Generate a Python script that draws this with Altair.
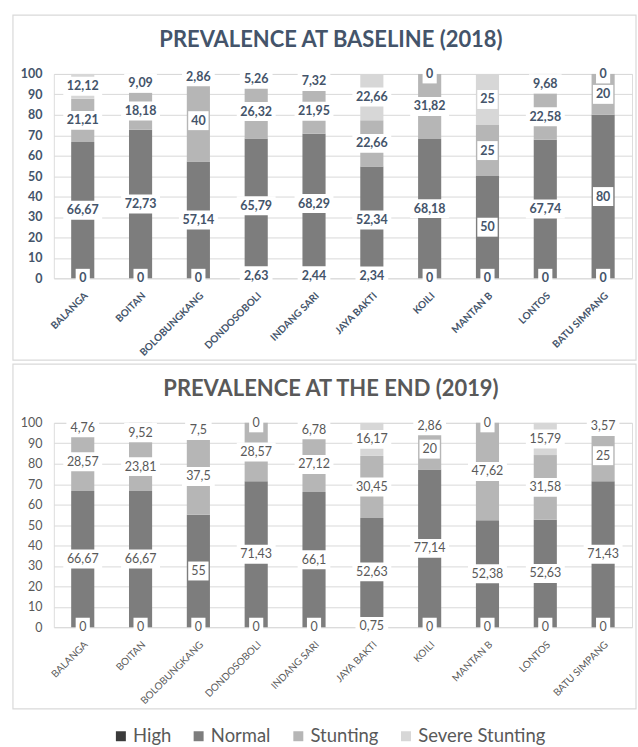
import altair as alt
import pandas as pd

villages = ["BALANGA", "BOITAN", "BOLOBUNGKANG", "DONDOSOBOLI", "INDANG SARI",
            "JAYA BAKTI", "KOILI", "MANTAN B", "LONTOS", "BATU SIMPANG"]
categories = ["High", "Normal", "Stunting", "Severe Stunting"]
colors = ["#3b3b3b", "#7d7d7d", "#b6b6b6", "#d7d7d7"]

base_high = [0, 0, 0, 2.63, 2.44, 2.34, 0, 0, 0, 0]
base_normal = [66.67, 72.73, 57.14, 65.79, 68.29, 52.34, 68.18, 50, 67.74, 80]
base_stunting = [21.21, 18.18, 40, 26.32, 21.95, 22.66, 31.82, 25, 22.58, 20]
base_severe = [12.12, 9.09, 2.86, 5.26, 7.32, 22.66, 0, 25, 9.68, 0]

end_high = [0, 0, 0, 0, 0, 0.75, 0, 0, 0, 0]
end_normal = [66.67, 66.67, 55, 71.43, 66.1, 52.63, 77.14, 52.38, 52.63, 71.43]
end_stunting = [28.57, 23.81, 37.5, 28.57, 27.12, 30.45, 20, 47.62, 31.58, 25]
end_severe = [4.76, 9.52, 7.5, 0, 6.78, 16.17, 2.86, 0, 15.79, 3.57]


def long_df(series):
    rows = []
    for ci, (cat, vals) in enumerate(zip(categories, series)):
        for v, val in zip(villages, vals):
            rows.append({"village": v, "category": cat, "order": ci, "value": val})
    return pd.DataFrame(rows)


df_base = long_df([base_high, base_normal, base_stunting, base_severe])
df_end = long_df([end_high, end_normal, end_stunting, end_severe])

FONT = "Lato"
W, H = 580, 205


def panel(df, title_text, txt_color, weight):
    base = alt.Chart(df).transform_stack(
        stack="value", groupby=["village"], as_=["y0", "y1"],
        sort=[alt.SortField("order", order="ascending")]
    ).transform_calculate(
        mid="(datum.y0 + datum.y1) / 2",
        label="replace(toString(datum.value), '.', ',')",
    ).transform_calculate(
        boxw="length(datum.label) * 6.2 + 8"
    )
    xax = alt.Axis(title=None, labelAngle=-45, labelFontSize=10, labelFontWeight=weight,
                   labelColor=txt_color, labelFont=FONT, ticks=False, domain=False,
                   grid=False, labelPadding=12, zindex=1)
    yax = alt.Axis(title=None, values=list(range(0, 101, 10)), grid=True, gridColor="#d9d9d9",
                   domain=False, ticks=False, labelPadding=12, labelFontSize=12.5,
                   labelFontWeight=weight, labelColor=txt_color, labelFont=FONT)
    xenc = alt.X("village:N", sort=villages, axis=xax,
                 scale=alt.Scale(paddingInner=0.6, paddingOuter=0.3))
    yscale = alt.Scale(domain=[0, 100], nice=False)
    bars = base.mark_bar().encode(
        x=xenc,
        y=alt.Y("y0:Q", scale=yscale, axis=yax),
        y2="y1:Q",
        color=alt.Color("category:N", scale=alt.Scale(domain=categories, range=colors),
                        legend=alt.Legend(title=None, orient="none", direction="horizontal",
                                          legendX=58, legendY=655, symbolType="square",
                                          symbolSize=100, symbolStrokeWidth=0,
                                          labelFontSize=18.5, labelFont=FONT,
                                          labelColor="#595959", columnPadding=18,
                                          labelOffset=3)),
    )
    boxes = base.mark_tick(color="white", thickness=19, opacity=1).encode(
        x=xenc, y=alt.Y("mid:Q", scale=yscale, axis=yax),
        size=alt.Size("boxw:Q", scale=None),
    )
    labels = base.mark_text(font=FONT, fontSize=12.5, fontWeight=weight, color=txt_color,
                            baseline="middle").encode(
        x=xenc, y=alt.Y("mid:Q", scale=yscale, axis=yax), text="label:N",
    )
    one = alt.Data(values=[{"k": 1}])
    frame = alt.Chart(one).mark_rect(fillOpacity=0, stroke="#d9d9d9", strokeWidth=1.2).encode(
        x=alt.value(-41), x2=alt.value(584), y=alt.value(-59), y2=alt.value(H + 82)
    )
    title = alt.Chart(one).mark_text(font=FONT, fontSize=22, fontWeight="bold", color=txt_color,
                                     align="center", baseline="middle").encode(
        x=alt.value(278), y=alt.value(-34), text=alt.value(title_text)
    )
    return alt.layer(frame, title, bars, boxes, labels).properties(width=W, height=H)


top = panel(df_base, "PREVALENCE AT BASELINE (2018)", "#44546a", "bold")
bottom = panel(df_end, "PREVALENCE AT THE END (2019)", "#595959", "normal")

chart = alt.vconcat(top, bottom, spacing=145, bounds="flush").properties(
    padding={"left": 11, "top": 12, "right": 0, "bottom": 0}
).configure_view(stroke=None).configure(background="white")

chart.save("out.html", embed_options={"renderer": "svg", "actions": False})
